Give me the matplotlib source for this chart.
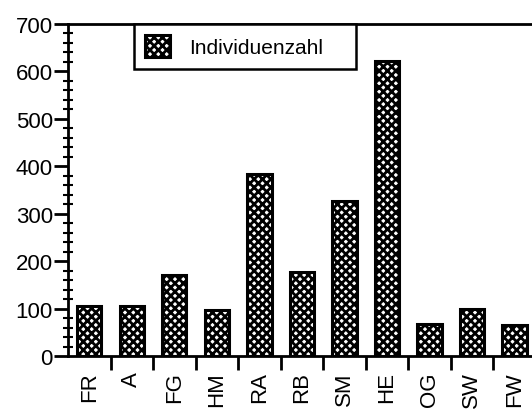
import matplotlib
matplotlib.use("Agg")
import matplotlib.pyplot as plt
from matplotlib.ticker import MultipleLocator, FixedLocator, NullFormatter

# data
categories = ["FR", "A", "FG", "HM", "RA", "RB", "SM", "HE", "OG", "SW", "FW"]
individuenzahl = [105, 105, 171, 97, 384, 177, 327, 622, 68, 99, 65]

plt.rcParams["font.family"] = ["Liberation Sans", "DejaVu Sans"]
plt.rcParams["hatch.linewidth"] = 2.0

fig = plt.figure(figsize=(5.32, 4.10), dpi=100)
ax = fig.add_axes([0.128, 0.129, 0.879, 0.810])

pos = [i + 0.5 for i in range(len(categories))]
ax.bar(pos, individuenzahl, width=0.57, color="white", edgecolor="black",
       hatch="xxxx", linewidth=2.2, label="Individuenzahl")

ax.set_xlim(0, len(categories))
ax.set_ylim(0, 700)

# y axis: major every 100, minor every 20
ax.yaxis.set_major_locator(MultipleLocator(100))
ax.yaxis.set_minor_locator(MultipleLocator(20))
ax.tick_params(axis="y", which="major", direction="out", length=10, width=2,
               labelsize=16, pad=1)
ax.tick_params(axis="y", which="minor", direction="inout", length=7, width=1.5)

# x axis: ticks at category boundaries, labels centred
ax.xaxis.set_major_locator(FixedLocator(range(1, len(categories))))
ax.xaxis.set_major_formatter(NullFormatter())
ax.set_xticks(pos, categories, minor=True, rotation=90)
ax.tick_params(axis="x", which="major", direction="out", length=10, width=2)
ax.tick_params(axis="x", which="minor", length=0, labelsize=16, pad=11)

for side in ["left", "bottom", "top"]:
    ax.spines[side].set_linewidth(2)
ax.spines["right"].set_visible(False)

leg = ax.legend(loc="upper left", bbox_to_anchor=(0.141, 1.0, 0.475, 0.0),
                mode="expand", borderaxespad=0, fancybox=False,
                edgecolor="black", framealpha=1, fontsize=15,
                handlelength=1.2, handleheight=1.2, borderpad=0.55,
                handletextpad=0.9)
leg.get_frame().set_linewidth(1.8)

fig.savefig("out.png", dpi=100)
